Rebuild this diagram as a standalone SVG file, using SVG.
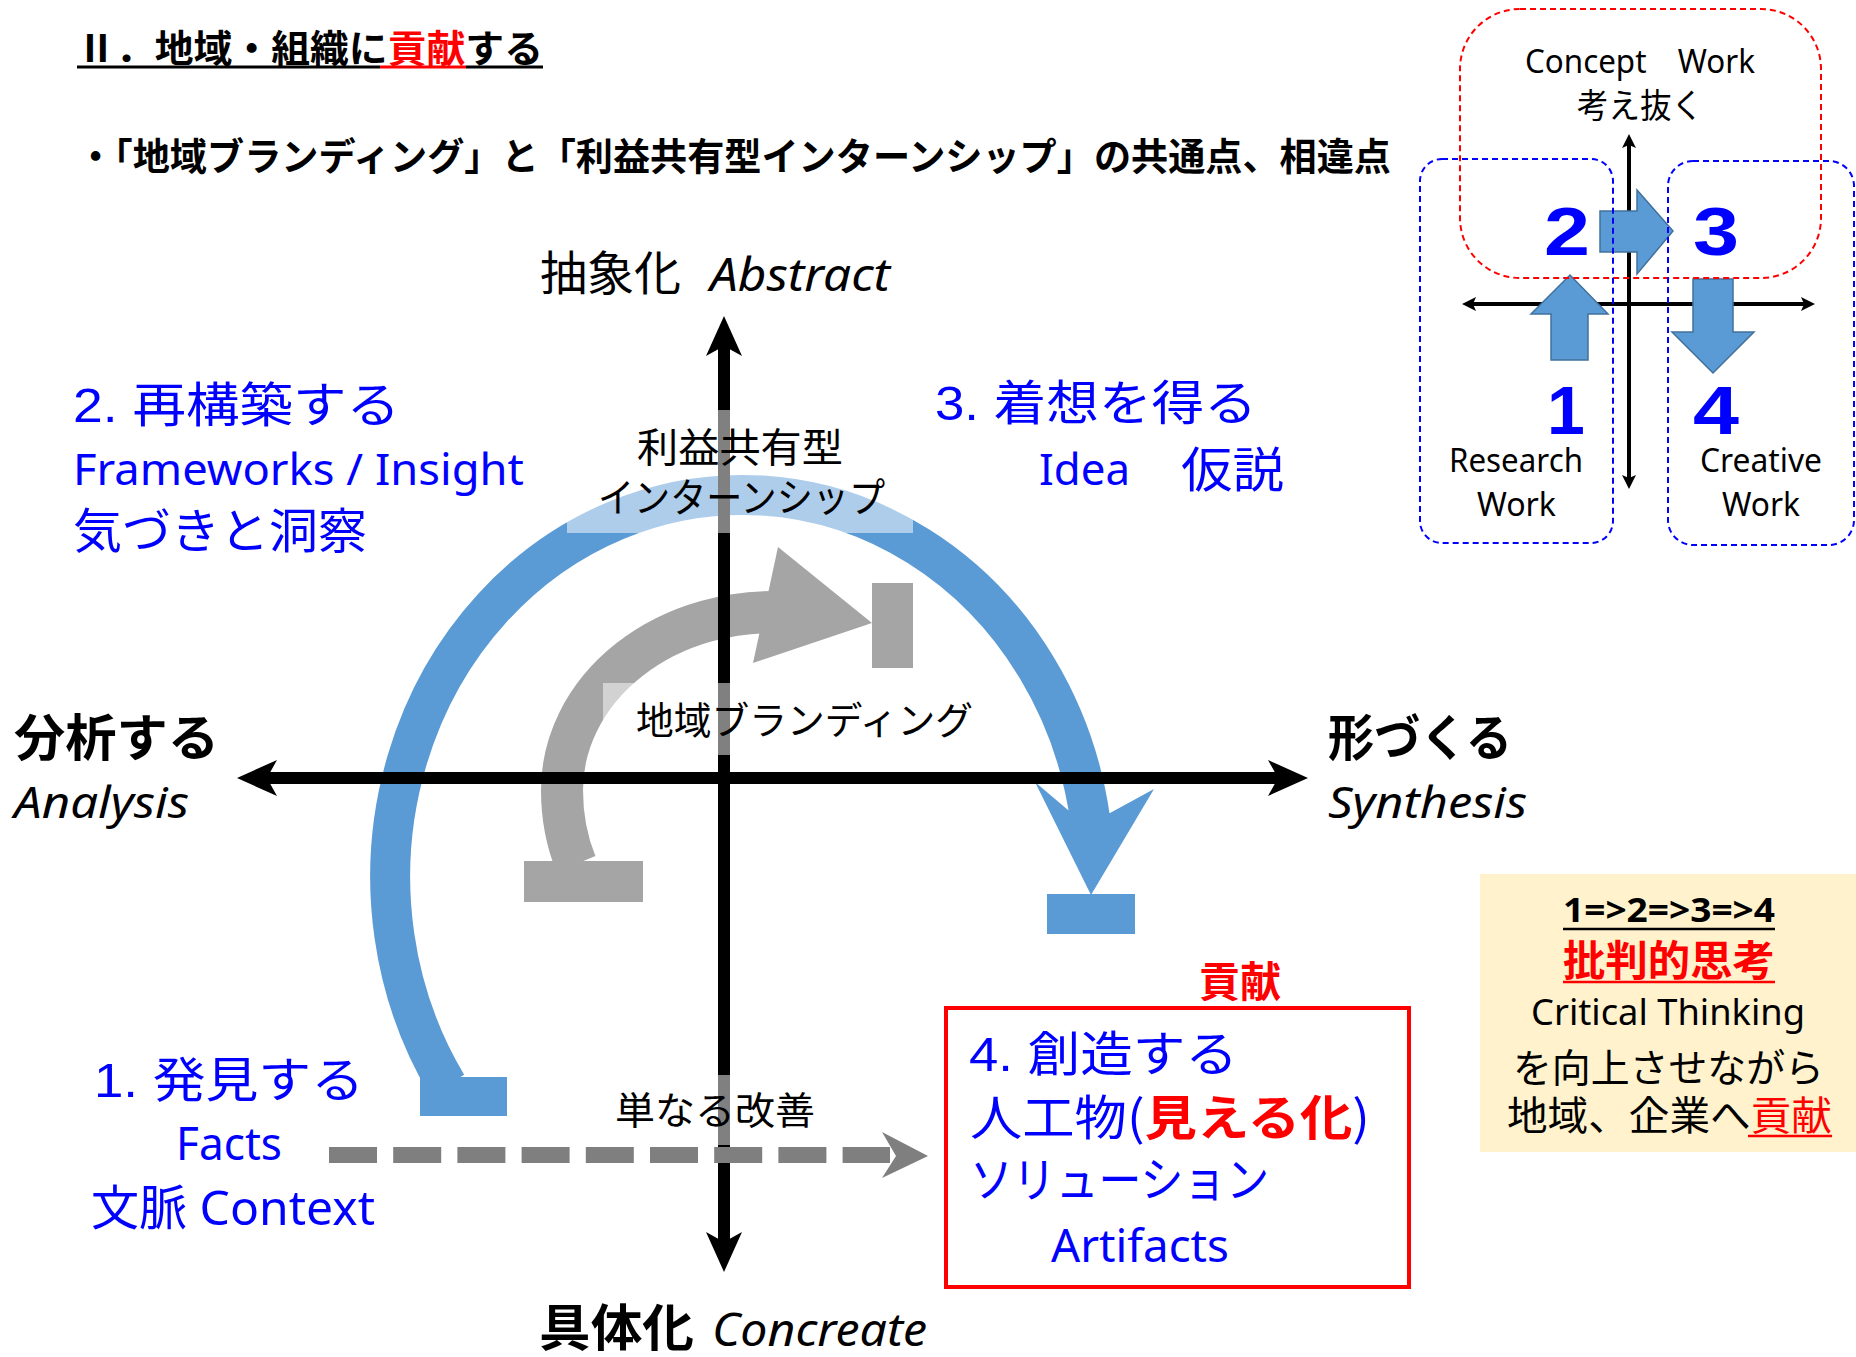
<svg xmlns="http://www.w3.org/2000/svg" width="1856" height="1357" viewBox="0 0 1856 1357">
<style>
.jp{font-family:'Noto Sans CJK JP',sans-serif}
.lat{font-family:'Noto Sans','Noto Sans CJK JP',sans-serif}
.mix{font-family:'Liberation Sans','Noto Sans CJK JP',sans-serif}
.b{font-weight:bold}
.it{font-style:italic}
.blue{fill:#0000FF}
.red{fill:#FF0000}
.veil{fill:#ffffff;fill-opacity:0.5}
.axis{stroke:#000;stroke-width:12;fill:none}
.maxis{stroke:#000;stroke-width:4;fill:none}
.bluefill{fill:#5B9BD5}
.grayfill{fill:#A5A5A5}
.marrow{fill:#5B9BD5;stroke:#41719C;stroke-width:1.5}
.dash-red{fill:none;stroke:#FF0000;stroke-width:2;stroke-dasharray:6 4}
.dash-blue{fill:none;stroke:#0000FF;stroke-width:2;stroke-dasharray:6 4}
</style>
<defs>
<marker id="ah" markerUnits="userSpaceOnUse" viewBox="-12 -20 44 40" markerWidth="44" markerHeight="40" refX="0" refY="0" orient="auto-start-reverse"><path d="M-10,-18 L30,0 L-10,18 L0,0 Z" fill="#000"/></marker>
<marker id="ahs" markerUnits="userSpaceOnUse" viewBox="-4 -8 16 16" markerWidth="16" markerHeight="16" refX="0" refY="0" orient="auto-start-reverse"><path d="M-3,-7 L11,0 L-3,7 L0,0 Z" fill="#000"/></marker>
</defs>
<rect width="1856" height="1357" fill="#fff"/>

<g id="title">
<text class="jp b" x="77" y="62" font-size="38" textLength="466" lengthAdjust="spacingAndGlyphs">Ⅱ．地域・組織に<tspan class="red">貢献</tspan>する</text>
<line x1="77" y1="67" x2="380" y2="67" stroke="#000" stroke-width="3"/>
<line x1="380" y1="67" x2="466" y2="67" stroke="#FF0000" stroke-width="3"/>
<line x1="466" y1="67" x2="543" y2="67" stroke="#000" stroke-width="3"/>
</g>
<g id="subtitle">
<text class="jp b" x="77" y="170" font-size="38" textLength="1314" lengthAdjust="spacingAndGlyphs">・「地域ブランディング」と「利益共有型インターンシップ」の共通点、相違点</text>
</g>

<g id="mini-diagram">
<line class="maxis" x1="1629" y1="145" x2="1629" y2="478" marker-start="url(#ahs)" marker-end="url(#ahs)"/>
<line class="maxis" x1="1473" y1="304" x2="1804" y2="304" marker-start="url(#ahs)" marker-end="url(#ahs)"/>
<polygon class="marrow" points="1600,211 1637,211 1637,190 1673,231 1637,274 1637,252 1600,252"/>
<polygon class="marrow" points="1551,360 1551,314 1531,314 1570,275 1608,314 1588,314 1588,360"/>
<polygon class="marrow" points="1693,279 1733,279 1733,332 1754,332 1713,373 1672,332 1693,332"/>
<rect class="dash-red" x="1460" y="9" width="361" height="269" rx="60"/>
<rect class="dash-blue" x="1420" y="159" width="193" height="384" rx="22"/>
<rect class="dash-blue" x="1668" y="161" width="186" height="384" rx="25"/>
<text class="lat" x="1525" y="73" font-size="32" textLength="230" lengthAdjust="spacingAndGlyphs">Concept　Work</text>
<text class="jp" x="1577" y="118" font-size="34" textLength="126" lengthAdjust="spacingAndGlyphs">考え抜く</text>
<text class="mix b blue" x="1567" y="255" font-size="68" text-anchor="middle" textLength="46" lengthAdjust="spacingAndGlyphs">2</text>
<text class="mix b blue" x="1716" y="255" font-size="68" text-anchor="middle" textLength="46" lengthAdjust="spacingAndGlyphs">3</text>
<text class="mix b blue" x="1566" y="434" font-size="68" text-anchor="middle">1</text>
<text class="mix b blue" x="1716" y="434" font-size="68" text-anchor="middle" textLength="46" lengthAdjust="spacingAndGlyphs">4</text>
<text class="lat" x="1449" y="472" font-size="33" textLength="134" lengthAdjust="spacingAndGlyphs">Research</text>
<text class="lat" x="1477" y="516" font-size="33" textLength="79" lengthAdjust="spacingAndGlyphs">Work</text>
<text class="lat" x="1700" y="472" font-size="33" textLength="122" lengthAdjust="spacingAndGlyphs">Creative</text>
<text class="lat" x="1722" y="516" font-size="33" textLength="78" lengthAdjust="spacingAndGlyphs">Work</text>
</g>

<g id="connectors">
<path id="blue-arc" d="M447 1085 A352 382 0 1 1 1090 818" fill="none" stroke="#5B9BD5" stroke-width="40"/>
<polygon class="bluefill" points="1035,782 1068,810 1110,813 1154,789 1091,895"/>
<rect class="bluefill" x="420" y="1077" width="87" height="39"/>
<rect class="bluefill" x="1047" y="894" width="88" height="40"/>
<path id="gray-arc" d="M576 864 Q562 830 562 790 A211 178 0 0 1 788 612.5" fill="none" stroke="#A5A5A5" stroke-width="42"/>
<polygon class="grayfill" points="778,547 872,623 753,663"/>
<rect class="grayfill" x="524" y="861" width="119" height="41"/>
<rect class="grayfill" x="872" y="583" width="41" height="85"/>
<line class="axis" x1="267" y1="778" x2="1278" y2="778" marker-start="url(#ah)" marker-end="url(#ah)"/>
<line class="axis" x1="724" y1="346" x2="724" y2="1242" marker-start="url(#ah)" marker-end="url(#ah)"/>
<line x1="329" y1="1155" x2="890" y2="1155" stroke="#7F7F7F" stroke-width="16" stroke-dasharray="48 16.2"/>
<polygon fill="#7F7F7F" points="882,1132 928,1156 882,1178 896,1156"/>
</g>

<g id="label-internship">
<rect class="veil" x="567" y="410" width="346" height="123"/>
<text class="jp" x="637" y="462" font-size="40" textLength="206" lengthAdjust="spacingAndGlyphs">利益共有型</text>
<text class="jp" x="598" y="512" font-size="40" textLength="287" lengthAdjust="spacingAndGlyphs">インターンシップ</text>
</g>
<g id="label-branding">
<rect class="veil" x="603" y="683" width="380" height="72"/>
<text class="jp" x="636" y="734" font-size="38" textLength="337" lengthAdjust="spacingAndGlyphs">地域ブランディング</text>
</g>
<g id="label-kaizen">
<rect class="veil" x="605" y="1075" width="220" height="70"/>
<text class="jp" x="615" y="1124" font-size="38" textLength="200" lengthAdjust="spacingAndGlyphs">単なる改善</text>
</g>

<g id="axis-labels">
<text class="jp" x="540" y="290" font-size="47">抽象化</text>
<text class="lat it" x="710" y="291" font-size="46" textLength="180" lengthAdjust="spacingAndGlyphs">Abstract</text>
<text class="jp b" x="539" y="1346" font-size="50" textLength="155" lengthAdjust="spacingAndGlyphs">具体化</text>
<text class="lat it" x="712" y="1346" font-size="46" textLength="215" lengthAdjust="spacingAndGlyphs">Concreate</text>
<text class="jp b" x="14" y="756" font-size="50" textLength="205" lengthAdjust="spacingAndGlyphs">分析する</text>
<text class="lat it" x="14" y="818" font-size="44" textLength="175" lengthAdjust="spacingAndGlyphs">Analysis</text>
<text class="jp b" x="1328" y="756" font-size="50" textLength="184" lengthAdjust="spacingAndGlyphs">形づくる</text>
<text class="lat it" x="1328" y="818" font-size="44" textLength="199" lengthAdjust="spacingAndGlyphs">Synthesis</text>
</g>

<g id="step2">
<text class="mix blue" x="73" y="422" font-size="48" textLength="327" lengthAdjust="spacingAndGlyphs">2. 再構築する</text>
<text class="lat blue" x="73" y="485" font-size="44" textLength="451" lengthAdjust="spacingAndGlyphs">Frameworks / Insight</text>
<text class="jp blue" x="73" y="548" font-size="48" textLength="294" lengthAdjust="spacingAndGlyphs">気づきと洞察</text>
</g>
<g id="step3">
<text class="mix blue" x="935" y="420" font-size="48" textLength="322" lengthAdjust="spacingAndGlyphs">3. 着想を得る</text>
<text class="lat blue" x="1039" y="485" font-size="44" textLength="91" lengthAdjust="spacingAndGlyphs">Idea</text>
<text class="jp blue" x="1181" y="487" font-size="48" textLength="103" lengthAdjust="spacingAndGlyphs">仮説</text>
</g>
<g id="step1">
<text class="mix blue" x="94" y="1097" font-size="48" textLength="270" lengthAdjust="spacingAndGlyphs">1. 発見する</text>
<text class="lat blue" x="176" y="1160" font-size="45" textLength="106" lengthAdjust="spacingAndGlyphs">Facts</text>
<text class="lat blue" x="91" y="1225" font-size="48" textLength="284" lengthAdjust="spacingAndGlyphs">文脈 Context</text>
</g>
<g id="step4">
<text class="jp b red" x="1199" y="997" font-size="42" textLength="82" lengthAdjust="spacingAndGlyphs">貢献</text>
<rect x="946" y="1008" width="463" height="279" fill="none" stroke="#FF0000" stroke-width="4"/>
<text class="mix blue" x="969" y="1071" font-size="48" textLength="269" lengthAdjust="spacingAndGlyphs">4. 創造する</text>
<text class="jp blue" x="970" y="1135" font-size="48" textLength="400" lengthAdjust="spacingAndGlyphs">人工物(<tspan class="red b">見える化</tspan>)</text>
<text class="jp blue" x="970" y="1197" font-size="48" textLength="299" lengthAdjust="spacingAndGlyphs">ソリューション</text>
<text class="lat blue" x="1051" y="1262" font-size="45" textLength="178" lengthAdjust="spacingAndGlyphs">Artifacts</text>
</g>

<g id="critical-thinking">
<rect x="1480" y="874" width="376" height="278" fill="#FFF2CC"/>
<text class="lat b" x="1563" y="922" font-size="34" textLength="212" lengthAdjust="spacingAndGlyphs">1=&gt;2=&gt;3=&gt;4</text>
<line x1="1563" y1="929" x2="1775" y2="929" stroke="#000" stroke-width="2.5"/>
<text class="jp b red" x="1563" y="976" font-size="42" textLength="212" lengthAdjust="spacingAndGlyphs">批判的思考</text>
<line x1="1563" y1="982" x2="1775" y2="982" stroke="#FF0000" stroke-width="2.5"/>
<text class="lat" x="1531" y="1025" font-size="36" textLength="274" lengthAdjust="spacingAndGlyphs">Critical Thinking</text>
<text class="jp" x="1513" y="1082" font-size="39" textLength="311" lengthAdjust="spacingAndGlyphs">を向上させながら</text>
<text class="jp" x="1507" y="1130" font-size="40" textLength="325" lengthAdjust="spacingAndGlyphs">地域、企業へ<tspan class="red">貢献</tspan></text>
<line x1="1748" y1="1136" x2="1832" y2="1136" stroke="#FF0000" stroke-width="2.5"/>
</g>
</svg>
